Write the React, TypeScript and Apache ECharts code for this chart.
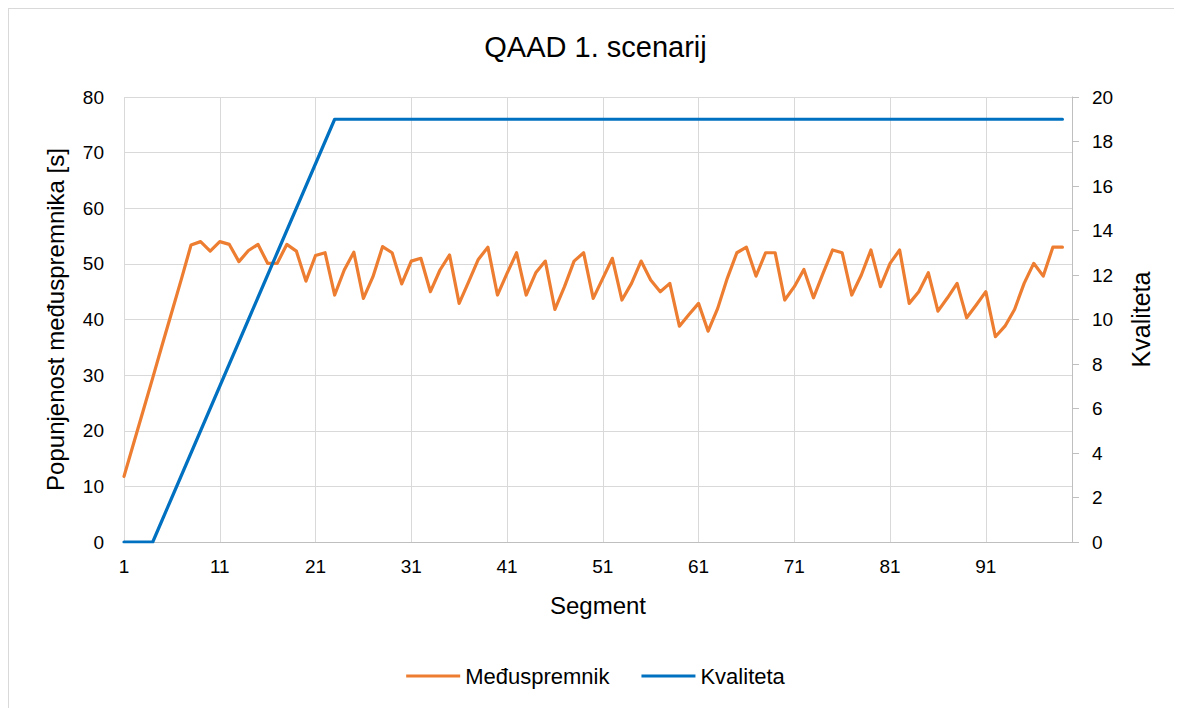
import React, { useEffect, useRef } from "react";
import * as echarts from "echarts";

const segments: string[] = Array.from({ length: 100 }, (_, i) => String(i + 1));

const buffer: number[] = [
  11.8, 17.7, 23.6, 29.5, 35.5, 41.4, 47.3, 53.4, 54.0, 52.3,
  54.0, 53.5, 50.4, 52.4, 53.5, 50.1, 50.1, 53.5, 52.3, 46.9,
  51.5, 52.0, 44.4, 48.9, 52.1, 43.8, 47.7, 53.1, 52.0, 46.4,
  50.5, 51.0, 45.0, 48.9, 51.6, 42.9, 46.8, 50.8, 53.0, 44.4,
  48.3, 52.0, 44.4, 48.4, 50.5, 41.8, 45.9, 50.5, 52.0, 43.8,
  47.4, 51.0, 43.5, 46.5, 50.5, 47.1, 45.0, 46.5, 38.8, 40.9,
  42.9, 37.9, 42.0, 47.4, 52.0, 53.0, 47.8, 52.0, 52.0, 43.5,
  45.9, 49.0, 43.9, 48.3, 52.5, 52.0, 44.4, 48.0, 52.5, 45.9,
  50.1, 52.5, 42.9, 45.0, 48.4, 41.5, 43.9, 46.5, 40.3, 42.6,
  45.0, 36.9, 38.8, 41.8, 46.5, 50.1, 47.8, 53.0, 53.0,
];

const quality: number[] = [
  0, 0, 0, 0, 1, 2, 3, 4, 5, 6,
  7, 8, 9, 10, 11, 12, 13, 14, 15, 16,
  17, 18, 19, 19, 19, 19, 19, 19, 19, 19,
  19, 19, 19, 19, 19, 19, 19, 19, 19, 19,
  19, 19, 19, 19, 19, 19, 19, 19, 19, 19,
  19, 19, 19, 19, 19, 19, 19, 19, 19, 19,
  19, 19, 19, 19, 19, 19, 19, 19, 19, 19,
  19, 19, 19, 19, 19, 19, 19, 19, 19, 19,
  19, 19, 19, 19, 19, 19, 19, 19, 19, 19,
  19, 19, 19, 19, 19, 19, 19, 19, 19,
];

const FONT = "Liberation Sans";

export default function App() {
  const ref = useRef<HTMLDivElement>(null);
  useEffect(() => {
    if (!ref.current) return;
    const chart = echarts.init(ref.current, undefined, { renderer: "svg" });
    chart.setOption({
      animation: false,
      backgroundColor: "#ffffff",
      textStyle: { fontFamily: FONT, color: "#000" },
      title: {
        text: "QAAD 1. scenarij",
        left: "center",
        top: 18,
        textStyle: { fontFamily: FONT, fontSize: 29, fontWeight: "normal", color: "#000" },
      },
      legend: {
        bottom: 16,
        left: "center",
        icon: "rect",
        itemWidth: 54,
        itemHeight: 3,
        itemGap: 32,
        textStyle: { fontFamily: FONT, fontSize: 22, color: "#000" },
        data: ["Međuspremnik", "Kvaliteta"],
      },
      grid: { left: 115, top: 88, width: 948, height: 445, containLabel: false },
      xAxis: {
        type: "category",
        data: segments,
        boundaryGap: false,
        name: "Segment",
        nameLocation: "middle",
        nameGap: 51,
        nameTextStyle: { fontFamily: FONT, fontSize: 24, color: "#000" },
        axisLine: { show: true, lineStyle: { color: "#bfbfbf", width: 1 } },
        axisTick: { show: false },
        axisLabel: { interval: 9, margin: 15, fontFamily: FONT, fontSize: 19, color: "#000" },
        splitLine: { show: true, interval: 9, lineStyle: { color: "#d9d9d9", width: 1 } },
      },
      yAxis: [
        {
          type: "value",
          min: 0,
          max: 80,
          interval: 10,
          name: "Popunjenost međuspremnika [s]",
          nameLocation: "middle",
          nameGap: 57,
          nameTextStyle: { fontFamily: FONT, fontSize: 24, color: "#000" },
          axisLine: { show: false },
          axisTick: { show: false },
          axisLabel: { margin: 20, fontFamily: FONT, fontSize: 19, color: "#000" },
          splitLine: { show: true, lineStyle: { color: "#d9d9d9", width: 1 } },
        },
        {
          type: "value",
          min: 0,
          max: 20,
          interval: 2,
          position: "right",
          name: "Kvaliteta",
          nameLocation: "middle",
          nameGap: 56,
          nameRotate: 90,
          nameTextStyle: { fontFamily: FONT, fontSize: 25, color: "#000" },
          axisLine: { show: true, lineStyle: { color: "#bfbfbf", width: 1 } },
          axisTick: { show: true, length: 7, lineStyle: { color: "#bfbfbf" } },
          axisLabel: { margin: 20, fontFamily: FONT, fontSize: 19, color: "#000" },
          splitLine: { show: false },
        },
      ],
      series: [
        {
          name: "Međuspremnik",
          type: "line",
          data: buffer,
          yAxisIndex: 0,
          symbol: "none",
          lineStyle: { color: "#ED7D31", width: 3.2, join: "round", cap: "round" },
          itemStyle: { color: "#ED7D31" },
        },
        {
          name: "Kvaliteta",
          type: "line",
          data: quality,
          yAxisIndex: 1,
          symbol: "none",
          lineStyle: { color: "#0070C0", width: 3.2, join: "round", cap: "round" },
          itemStyle: { color: "#0070C0" },
        },
      ],
    });
    return () => chart.dispose();
  }, []);
  return (
    <div style={{ borderLeft: "1px solid #d9d9d9", borderTop: "1px solid #d9d9d9", width: 1173, height: 699 }}>
      <div ref={ref} style={{ width: 1173, height: 699 }} />
    </div>
  );
}
